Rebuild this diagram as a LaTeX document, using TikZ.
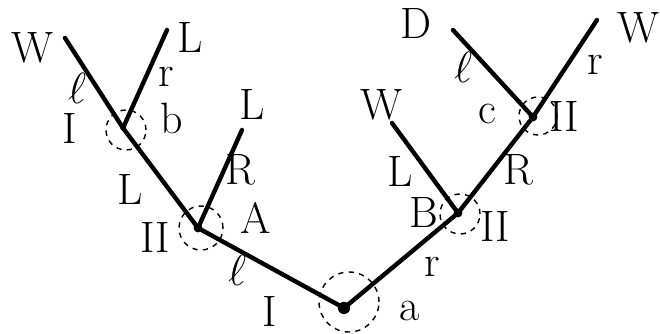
\documentclass[tikz,border=0pt]{standalone}
\usepackage{tikz}
\usetikzlibrary{positioning}

\begin{document}
\begin{tikzpicture}[x=0.02cm, y=-0.02cm,
  move/.style={line width=2.5pt, line cap=round},
  infoset/.style={circle, draw, dashed, line width=0.8pt, inner sep=0pt},
  dot/.style={circle, fill, inner sep=0pt, minimum size=5pt},
  lbl/.style={inner sep=0pt, font=\fontsize{25}{27}\selectfont}
]
  \useasboundingbox (0,0) rectangle (660,334);
  % decision points and end points
  \coordinate (a) at (344,308);
  \coordinate (A) at (198,228);
  \coordinate (b) at (123,128);
  \coordinate (B) at (458,213);
  \coordinate (c) at (533,117);
  \coordinate (endW1) at (65,38);
  \coordinate (endL1) at (167,30);
  \coordinate (endL2) at (242,130);
  \coordinate (endW2) at (392,123);
  \coordinate (endD) at (453,30);
  \coordinate (endW3) at (597,20);
  % moves
  \draw[move] (a) -- (A);
  \draw[move] (a) -- (B);
  \draw[move] (A) -- (b);
  \draw[move] (A) -- (endL2);
  \draw[move] (b) -- (endW1);
  \draw[move] (b) -- (endL1);
  \draw[move] (B) -- (endW2);
  \draw[move] (B) -- (c);
  \draw[move] (c) -- (endD);
  \draw[move] (c) -- (endW3);
  % dots and dashed circles
  \node[dot, minimum size=7pt] at (a) {};
  \node[dot] at (A) {};
  \node[dot, minimum size=3pt] at (b) {};
  \node[dot] at (B) {};
  \node[dot] at (c) {};
  \node[infoset, minimum size=60*0.02cm] (setA) at (349,302) {};
  \node[infoset, minimum size=44*0.02cm] (setAA) at (201,228) {};
  \node[infoset, minimum size=40*0.02cm] (setb) at (126,130) {};
  \node[infoset, minimum size=40*0.02cm] (setB) at (460,214) {};
  \node[infoset, minimum size=38*0.02cm] (setc) at (538,116) {};
  % end labels
  \node[lbl] (W1) at (32,48) {W};
  \node[lbl] (L1) at (190,38) {L};
  \node[lbl] (L2) at (252,105) {L};
  \node[lbl] (W2) at (381,105) {W};
  \node[lbl] (D) at (416,24) {D};
  \node[lbl] (W3) at (638,28) {W};
  % node names and players
  \node[lbl] (na) at (410,311) {a};
  \node[lbl] (nA) at (256,218) {A};
  \node[lbl] (nb) at (172,118) {b};
  \node[lbl] (nB) at (424,213) {B};
  \node[lbl] (nc) at (487,114) {c};
  \node[lbl] (pa) at (270,312) {I};
  \node[lbl] (pA) at (155,238) {II};
  \node[lbl] (pb) at (70,129) {I};
  \node[lbl] (pB) at (495,227) {II};
  \node[lbl] (pc) at (564,117) {II};
  % move labels
  \node[lbl] (ml1) at (237,270) {$\ell$};
  \node[lbl] (mr1) at (432,267) {r};
  \node[lbl] (mL1) at (130,190) {L};
  \node[lbl] (mR1) at (240,170) {R};
  \node[lbl] (ml2) at (77,88) {$\ell$};
  \node[lbl] (mr2) at (166,77) {r};
  \node[lbl] (mL2) at (400,172) {L};
  \node[lbl] (mR2) at (518,170) {R};
  \node[lbl] (ml3) at (463,67) {$\ell$};
  \node[lbl] (mr3) at (595,65) {r};
\end{tikzpicture}
\end{document}
